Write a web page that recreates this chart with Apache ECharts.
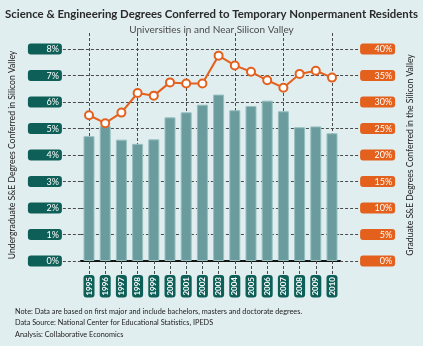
<!DOCTYPE html>
<html>
<head>
<meta charset="utf-8">
<script src="https://cdn.jsdelivr.net/npm/echarts@6/dist/echarts.min.js"></script>
<style>
  html, body { margin: 0; padding: 0; background: #e1eef0; }
  #chart { width: 423px; height: 346px; }
</style>
</head>
<body>
<div id="chart"></div>
<script>
// Academic years
const years = ['1995','1996','1997','1998','1999','2000','2001','2002','2003','2004','2005','2006','2007','2008','2009','2010'];
// Share of undergraduate S&E degrees (percent, left axis)
const undergradShare = [4.71, 5.09, 4.58, 4.42, 4.59, 5.42, 5.61, 5.90, 6.28, 5.69, 5.85, 6.05, 5.65, 5.05, 5.08, 4.82];
// Share of graduate S&E degrees (percent, right axis)
const gradShare = [27.5, 26.0, 28.0, 31.7, 31.2, 33.7, 33.5, 33.5, 38.75, 36.9, 35.7, 34.1, 32.7, 35.3, 35.9, 34.6];
// Notes printed under the chart
const notes = [
  'Note: Data are based on first major and include bachelors, masters and doctorate degrees.',
  'Data Source: National Center for Educational Statistics, IPEDS',
  'Analysis: Collaborative Economics'
];

const FONT = 'Lato';
const TEAL_DARK = '#0e5f57';
const ORANGE = '#e3611d';
const GRID_LINE = { color: '#4a4a4a', width: 1, type: [3, 2] };

const chart = echarts.init(document.getElementById('chart'), null, { renderer: 'canvas' });

chart.setOption({
  animation: false,
  backgroundColor: '#e1eef0',
  textStyle: { fontFamily: FONT },
  title: [
    {
      text: 'Science & Engineering Degrees Conferred to Temporary Nonpermanent Residents',
      left: 'center', top: 4,
      textStyle: { fontFamily: FONT, fontSize: 11.4, fontWeight: 'bold', color: '#2a2a2a' }
    },
    {
      text: 'Universities in and Near Silicon Valley',
      left: 'center', top: 20,
      textStyle: { fontFamily: FONT, fontSize: 10, fontWeight: 'normal', color: '#4a4a4a' }
    }
  ],
  graphic: notes.map((t, i) => ({
    type: 'text', left: 15, top: 308 + i * 11.5,
    style: { text: t, font: '7.3px ' + FONT, fill: '#222' }
  })),
  grid: { left: 70, right: 74, top: 49, bottom: 85 },
  xAxis: [
    {
      type: 'category', data: years, position: 'bottom',
      axisLine: { show: true, lineStyle: { color: '#111', width: 2, type: [2, 1] } },
      axisTick: { show: true, alignWithLabel: true, length: 14, lineStyle: GRID_LINE },
      axisLabel: {
        rotate: 90, margin: 14, interval: 0,
        color: '#fff', fontSize: 8, fontWeight: 'bold', fontFamily: FONT,
        backgroundColor: TEAL_DARK, borderRadius: 3, padding: [2, 2, 1, 2]
      },
      splitLine: { show: false }
    },
    {
      // inward ticks from the baseline draw the vertical dashed guides
      type: 'category', data: years, position: 'bottom',
      axisLine: { show: false },
      axisTick: { show: true, inside: true, alignWithLabel: true, length: 229, lineStyle: GRID_LINE },
      axisLabel: { show: false },
      splitLine: { show: false }
    }
  ],
  yAxis: [
    {
      type: 'value', min: 0, max: 8, interval: 1, position: 'left',
      name: 'Undergraduate S&E Degrees Conferred in Silicon Valley',
      nameLocation: 'middle', nameGap: 58, nameRotate: 90,
      nameTextStyle: { fontFamily: FONT, fontSize: 8.6, color: '#222' },
      axisLine: { show: false },
      axisTick: { show: true, length: 19, lineStyle: GRID_LINE },
      splitLine: { show: true, lineStyle: GRID_LINE },
      axisLabel: {
        margin: 19,
        formatter: v => '{v|' + v + '%}',
        backgroundColor: TEAL_DARK, borderRadius: 3, padding: [1, 3, 0, 3],
        rich: { v: { width: 28, align: 'right', color: '#fff', fontSize: 9, fontFamily: FONT, lineHeight: 10 } }
      }
    },
    {
      type: 'value', min: 0, max: 40, interval: 5, position: 'right',
      name: 'Graduate S&E Degrees Conferred in the Silicon Valley',
      nameLocation: 'middle', nameGap: 62, nameRotate: 90,
      nameTextStyle: { fontFamily: FONT, fontSize: 8.6, color: '#222' },
      axisLine: { show: false },
      axisTick: { show: true, length: 20, lineStyle: GRID_LINE },
      splitLine: { show: false },
      axisLabel: {
        margin: 20,
        formatter: v => '{v|' + v + '%}',
        backgroundColor: ORANGE, borderRadius: 3, padding: [1, 3, 0, 3],
        rich: { v: { width: 29, align: 'right', color: '#fff', fontSize: 9, fontFamily: FONT, lineHeight: 10 } }
      }
    }
  ],
  series: [
    {
      name: 'Undergraduate', type: 'bar', xAxisIndex: 0, yAxisIndex: 0,
      data: undergradShare, barWidth: 11,
      itemStyle: { color: '#6a9c9e', borderColor: '#97bfc0', borderWidth: 1 }
    },
    {
      name: 'Graduate', type: 'line', xAxisIndex: 0, yAxisIndex: 1,
      data: gradShare,
      symbol: 'circle', symbolSize: 8,
      lineStyle: { color: ORANGE, width: 2 },
      itemStyle: { color: '#fff', borderColor: ORANGE, borderWidth: 2 }
    }
  ]
});
</script>
</body>
</html>
